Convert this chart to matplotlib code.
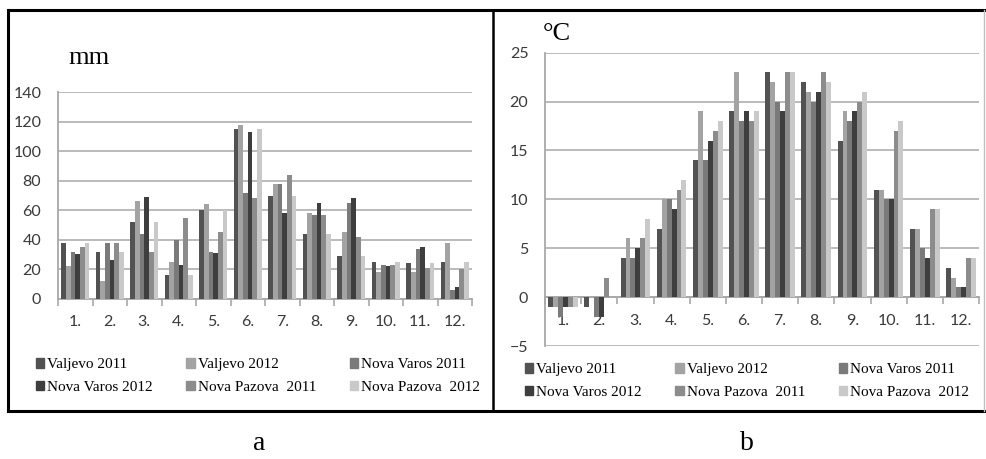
import numpy as np
import matplotlib.pyplot as plt
from matplotlib.lines import Line2D
from matplotlib.patches import Patch

months = ['1.', '2.', '3.', '4.', '5.', '6.', '7.', '8.', '9.', '10.', '11.', '12.']
series = ['Valjevo 2011', 'Valjevo 2012', 'Nova Varos 2011',
          'Nova Varos 2012', 'Nova Pazova  2011', 'Nova Pazova  2012']
colors = ['#525252', '#a3a3a3', '#7a7a7a', '#3e3e3e', '#8c8c8c', '#c9c9c9']

# precipitation, mm
rain_valjevo_2011 = [38, 32, 52, 16, 60, 115, 70, 44, 29, 25, 24, 25]
rain_valjevo_2012 = [22, 12, 66, 25, 64, 118, 78, 58, 45, 18, 18, 38]
rain_novavaros_2011 = [32, 38, 44, 40, 32, 72, 78, 57, 65, 23, 34, 6]
rain_novavaros_2012 = [30, 26, 69, 23, 31, 113, 58, 65, 68, 22, 35, 8]
rain_novapazova_2011 = [35, 38, 32, 55, 45, 68, 84, 57, 42, 23, 21, 20]
rain_novapazova_2012 = [38, 32, 52, 16, 60, 115, 70, 44, 29, 25, 24, 25]

# temperature, C
temp_valjevo_2011 = [-1, -1, 4, 7, 14, 19, 23, 22, 16, 11, 7, 3]
temp_valjevo_2012 = [-1, 0, 6, 10, 19, 23, 22, 21, 19, 11, 7, 2]
temp_novavaros_2011 = [-2, -2, 4, 10, 14, 18, 20, 20, 18, 10, 5, 1]
temp_novavaros_2012 = [-1, -2, 5, 9, 16, 19, 19, 21, 19, 10, 4, 1]
temp_novapazova_2011 = [-1, 2, 6, 11, 17, 18, 23, 23, 20, 17, 9, 4]
temp_novapazova_2012 = [-1, 0, 8, 12, 18, 19, 23, 22, 21, 18, 9, 4]

rain = [rain_valjevo_2011, rain_valjevo_2012, rain_novavaros_2011,
        rain_novavaros_2012, rain_novapazova_2011, rain_novapazova_2012]
temp = [temp_valjevo_2011, temp_valjevo_2012, temp_novavaros_2011,
        temp_novavaros_2012, temp_novapazova_2011, temp_novapazova_2012]

W, H = 986, 459
fig = plt.figure(figsize=(W / 100, H / 100), dpi=100)
tickfont = 'Lato'
serif = 'Liberation Serif'


def fx(px):
    return px / W


def fy(py):
    return 1 - py / H


def draw_panel(ax, data, ylim, step, zero_spine):
    x = np.arange(len(months))
    w = 0.136
    for i, vals in enumerate(data):
        ax.bar(x + (i - 2.5) * w, vals, w, color=colors[i], zorder=3)
    ax.set_xlim(-0.5, 11.5)
    ax.set_ylim(*ylim)
    ax.set_yticks(np.arange(ylim[0], ylim[1] + 1, step))
    ax.grid(axis='y', color='#b5b5b5', lw=1.3, zorder=0)
    ax.set_axisbelow(True)
    for s in ['top', 'right']:
        ax.spines[s].set_visible(False)
    for s in ['left', 'bottom']:
        ax.spines[s].set_color('#a8a8a8')
        ax.spines[s].set_linewidth(1.3)
    if zero_spine:
        ax.spines['bottom'].set_position(('data', 0))
    ax.set_xticks(np.arange(-0.5, 12, 1))
    ax.set_xticklabels([])
    ax.set_xticks(x, minor=True)
    ax.set_xticklabels(months, minor=True)
    ax.tick_params(axis='x', which='major', length=5, color='#a8a8a8', width=1.2, direction='out')
    ax.tick_params(axis='x', which='minor', length=0, pad=12)
    ax.tick_params(axis='y', length=0, pad=12)
    for lab in ax.get_xticklabels(minor=True) + ax.get_yticklabels():
        lab.set_fontfamily(tickfont)
        lab.set_fontsize(11.5)
        lab.set_color('#3a3a3a')


ax1 = fig.add_axes([fx(58), fy(298.7), fx(472 - 58), (298.7 - 92.3) / H])
draw_panel(ax1, rain, (0, 140), 20, False)

ax2 = fig.add_axes([fx(545), fy(346), fx(979 - 545), (346 - 52.7) / H])
draw_panel(ax2, temp, (-5, 25), 5, True)

fig.text(fx(89), fy(58), 'mm', family=serif, fontsize=19, ha='center', va='center')
fig.text(fx(557), fy(34), '°C', family=serif, fontsize=19, ha='center', va='center')

# legends, row-wise order
handles = [Patch(color=c) for c in colors]
order = [0, 3, 1, 4, 2, 5]
for cx, cy in [(258, 376), (747, 381)]:
    leg = fig.legend([handles[i] for i in order], [series[i] for i in order],
                     ncol=3, loc='center', bbox_to_anchor=(fx(cx), fy(cy)),
                     frameon=False, handlelength=0.55, handleheight=0.55,
                     handletextpad=0.2, columnspacing=2.2, labelspacing=0.6,
                     prop={'family': serif, 'size': 11})

fig.text(fx(259), fy(450), 'a', family=serif, fontsize=20, ha='center', va='baseline')
fig.text(fx(747), fy(450), 'b', family=serif, fontsize=20, ha='center', va='baseline')

# panel frames
lw = 2.2
fig.add_artist(Line2D([fx(8), fx(986)], [fy(10), fy(10)], color='black', lw=lw))
fig.add_artist(Line2D([fx(8), fx(984)], [fy(411), fy(411)], color='black', lw=lw))
fig.add_artist(Line2D([fx(8), fx(8)], [fy(10), fy(411)], color='black', lw=lw))
fig.add_artist(Line2D([fx(493), fx(493)], [fy(10), fy(411)], color='black', lw=1.8))
fig.add_artist(Line2D([fx(984), fx(984)], [fy(10), fy(411)], color='#c0c0c0', lw=1))

fig.savefig('out.png', dpi=100)
